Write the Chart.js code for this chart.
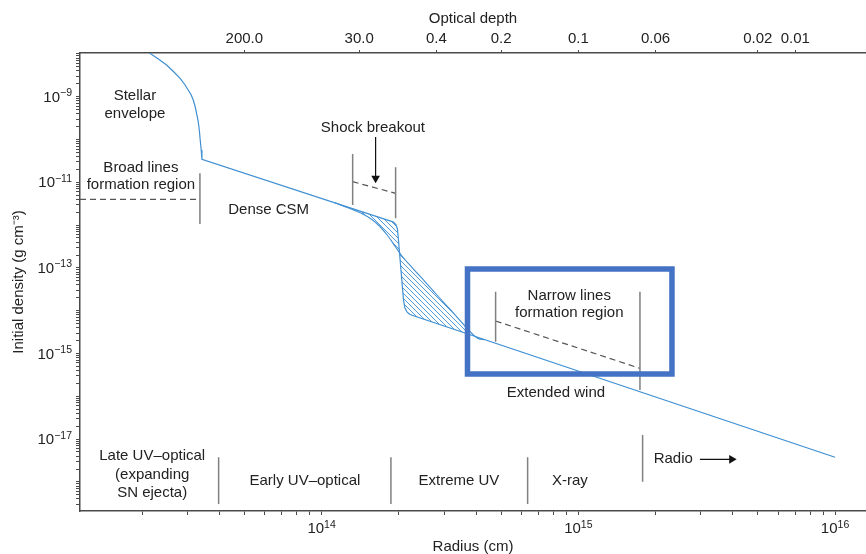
<!DOCTYPE html>
<html><head><meta charset="utf-8">
<script src="https://cdn.jsdelivr.net/npm/chart.js@4"></script>
<style>html,body{margin:0;padding:0;background:#fff}#wrap{width:866px;height:554px;position:relative}</style>
</head><body><div id="wrap"><canvas id="c"></canvas></div>
<script>
// ---------------- data (radius in cm, density in g cm^-3) ----------------
const profileRadius  = [2.087e13, 2.143e13, 2.313e13, 2.490e13, 2.647e13, 2.811e13, 2.921e13, 3.022e13, 3.105e13, 3.162e13,
                        3.216e13, 3.258e13, 3.297e13, 3.327e13, 3.347e13, 3.366e13, 3.396e13, 3.418e13,
                        1.845e14, 1.904e14, 1.947e14, 1.974e14, 1.992e14, 2.084e14, 2.112e14, 2.150e14, 2.208e14, 1.0e16];
const profileDensity = [1.169e-8, 1.033e-8, 7.60e-9, 5.51e-9, 3.88e-9, 2.69e-9, 1.98e-9, 1.436e-9, 1.097e-9, 8.38e-10,
                        5.90e-10, 4.09e-10, 2.86e-10, 1.99e-10, 1.419e-10, 9.73e-11, 5.69e-11, 3.44e-11,
                        1.259e-12, 1.180e-12, 1.033e-12, 8.11e-13, 4.49e-13, 1.778e-14, 1.156e-14, 9.33e-15, 8.15e-15, 3.76e-18];
const shellRadius  = [1.127e14, 1.289e14, 1.435e14, 1.570e14, 1.687e14, 1.813e14, 1.930e14, 2.055e14, 2.269e14, 2.526e14,
                      2.813e14, 3.105e14, 3.396e14, 3.648e14, 3.851e14, 4.064e14, 4.33e14];
const shellDensity = [3.32e-12, 2.443e-12, 1.866e-12, 1.351e-12, 9.28e-13, 5.56e-13, 3.25e-13, 1.897e-13, 9.68e-14, 4.81e-14,
                      2.327e-14, 1.220e-14, 6.75e-15, 4.16e-15, 2.93e-15, 2.24e-15, 2.10e-15];

// region separators (vertical grey lines)
const sepRadius = [3.357e13, 1.321e14, 1.942e14, 4.762e14, 1.738e15, 3.97e13, 1.862e14, 6.346e14, 1.780e15];
const sepTop    = [1.62e-11, 4.58e-11, 2.24e-11, 2.78e-14, 2.78e-14, 3.76e-18, 3.76e-18, 3.76e-18, 1.247e-17];
const sepBottom = [1.06e-12, 2.95e-12, 1.44e-12, 1.888e-15, 1.403e-16, 3.05e-19, 3.05e-19, 3.05e-19, 1.01e-18];

// dashed guide lines
const dashStartR   = [1.145e13, 1.321e14, 4.762e14];
const dashStartRho = [4.01e-12, 1.033e-11, 5.74e-15];
const dashEndR     = [3.357e13, 1.942e14, 1.738e15];
const dashEndRho   = [4.01e-12, 5.53e-12, 4.51e-16];

// arrows
const arrowStartR   = [1.623e14, 2.975e15];
const arrowStartRho = [1.143e-10, 3.37e-18];
const arrowEndR     = [1.623e14, 3.956e15];
const arrowEndRho   = [1.24e-11, 3.37e-18];
const arrowAngle    = [180, 90];

// highlight box corners
const boxRadius  = [3.70e14, 2.316e15];
const boxDensity = [9.42e-14, 3.32e-16];

// annotation texts
const noteText = ['Stellar','envelope','Broad lines','formation region','Dense CSM','Shock breakout',
                  'Narrow lines','formation region','Extended wind','Late UV\u2013optical','(expanding','SN ejecta)',
                  'Early UV\u2013optical','Extreme UV','X-ray','Radio'];
const noteRadius = [1.874e13,1.874e13,1.977e13,1.977e13,6.218e13,1.584e14,9.22e14,9.22e14,8.18e14,
                    2.188e13,2.188e13,2.188e13,8.61e13,3.426e14,9.27e14,2.343e15];
const noteDensity = [1.038e-9,3.95e-10,2.16e-11,8.65e-12,2.25e-12,1.86e-10,2.24e-14,8.69e-15,1.213e-16,
                     4.03e-18,1.449e-18,5.41e-19,1.067e-18,1.067e-18,1.067e-18,3.37e-18];

// axes
const radiusMin = 1.145e13, radiusMax = 1.32e16;
const densityMin = 2.09e-19, densityMax = 1.05e-8;
const tickBase = '10';
const xTickValues = [1e14, 1e15, 1e16];
const xTickExponents = ['14', '15', '16'];
const yTickValues = [1e-9, 1e-11, 1e-13, 1e-15, 1e-17];
const yTickExponents = ['\u22129', '\u221211', '\u221213', '\u221215', '\u221217'];
const depthTickRadius = [5e13, 1.4e14, 2.8e14, 5e14, 1e15, 2e15, 5e15, 7e15];
const depthTickLabels = ['200.0', '30.0', '0.4', '0.2', '0.1', '0.06', '0.02', '0.01'];

// ---------------- chart ----------------
const BLUE = '#3f8fd2', GREY = '#808080', DASH = '#555555', AXIS = '#4a4a4a', TXT = '#222222', BOX = '#4472c4';
const FAMILY = '"Liberation Sans", Arial, Helvetica, sans-serif';
Chart.defaults.font.family = FAMILY;
Chart.defaults.font.size = 15;
Chart.defaults.color = TXT;

const pts = (xs, ys) => xs.map((v, i) => ({x: v, y: ys[i]}));
function logTicks(min, max) {
  const out = [];
  for (let e = Math.floor(Math.log10(min)); e <= Math.ceil(Math.log10(max)); e++) {
    for (let k = 1; k <= 9; k++) {
      const v = k * Math.pow(10, e);
      if (v >= min && v <= max) out.push({value: v});
    }
  }
  return out;
}
function labelFor(v, vals, labels) {
  for (let i = 0; i < vals.length; i++) if (Math.abs(Math.log10(v / vals[i])) < 1e-6) return labels[i];
  return '';
}
function hatch() {
  const s = 5, c = document.createElement('canvas');
  c.width = s; c.height = s;
  const g = c.getContext('2d');
  g.strokeStyle = BLUE; g.lineWidth = 0.9;
  g.beginPath();
  g.moveTo(0, 0); g.lineTo(s, s);
  g.moveTo(-1, s - 1); g.lineTo(1, s + 1);
  g.moveTo(s - 1, -1); g.lineTo(s + 1, 1);
  g.stroke();
  return g.createPattern(c, 'repeat');
}

const datasets = [];
datasets.push({data: pts(profileRadius, profileDensity), borderColor: BLUE, borderWidth: 1.2, order: 1, tension: 0});
datasets.push({data: pts(shellRadius, shellDensity), borderColor: BLUE, borderWidth: 1.1, order: 2,
               fill: {target: 0}, backgroundColor: hatch(), cubicInterpolationMode: 'monotone'});
sepRadius.forEach((r, i) => datasets.push({data: pts([r, r], [sepTop[i], sepBottom[i]]), borderColor: GREY, borderWidth: 1.5, order: 3}));
dashStartR.forEach((r, i) => datasets.push({data: pts([r, dashEndR[i]], [dashStartRho[i], dashEndRho[i]]),
  borderColor: DASH, borderWidth: 1.2, borderDash: [6, 4], order: 3}));
arrowStartR.forEach((r, i) => datasets.push({data: pts([r, arrowEndR[i]], [arrowStartRho[i], arrowEndRho[i]]),
  borderColor: '#111', borderWidth: 1.2, order: 3, pointRadius: [0, 5], pointStyle: 'triangle',
  pointRotation: arrowAngle[i], pointBackgroundColor: '#111', pointBorderColor: '#111', pointBorderWidth: 0}));
datasets.push({data: pts([boxRadius[0], boxRadius[1], boxRadius[1], boxRadius[0], boxRadius[0], boxRadius[1]],
                          [boxDensity[0], boxDensity[0], boxDensity[1], boxDensity[1], boxDensity[0], boxDensity[0]]),
  borderColor: BOX, borderWidth: 5.5, borderJoinStyle: 'miter', borderCapStyle: 'butt', order: 0});

const notes = {
  id: 'notes',
  afterDatasetsDraw(chart) {
    const {ctx, scales: {x, y}} = chart;
    ctx.save();
    ctx.font = '15px ' + FAMILY;
    ctx.fillStyle = TXT; ctx.textAlign = 'center'; ctx.textBaseline = 'middle';
    noteText.forEach((t, i) => ctx.fillText(t, x.getPixelForValue(noteRadius[i]), y.getPixelForValue(noteDensity[i])));
    ctx.restore();
  }
};

// power-of-ten tick labels with a raised exponent
const powerLabels = {
  id: 'powerLabels',
  afterDraw(chart) {
    const {ctx, scales: {x, y}, chartArea} = chart;
    const baseFont = '15px ' + FAMILY, supFont = '10.5px ' + FAMILY;
    ctx.save();
    ctx.fillStyle = TXT; ctx.textAlign = 'left'; ctx.textBaseline = 'alphabetic';
    ctx.font = baseFont;
    const bw = ctx.measureText(tickBase).width;
    xTickValues.forEach((v, i) => {
      ctx.font = supFont;
      const ew = ctx.measureText(xTickExponents[i]).width;
      const left = x.getPixelForValue(v) - (bw + ew) / 2;
      const base = chartArea.bottom + 22;
      ctx.font = baseFont; ctx.fillText(tickBase, left, base);
      ctx.font = supFont; ctx.fillText(xTickExponents[i], left + bw, base - 5.5);
    });
    yTickValues.forEach((v, i) => {
      ctx.font = supFont;
      const ew = ctx.measureText(yTickExponents[i]).width;
      const right = chartArea.left - 8;
      const py = y.getPixelForValue(v);
      ctx.font = baseFont; ctx.fillText(tickBase, right - ew - bw, py + 5);
      ctx.font = supFont; ctx.fillText(yTickExponents[i], right - ew, py - 0.5);
    });
    ctx.restore();
  }
};

new Chart(document.getElementById('c'), {
  type: 'scatter',
  data: {datasets},
  plugins: [notes, powerLabels],
  options: {
    responsive: true, maintainAspectRatio: false, animation: false,
    layout: {padding: 0, autoPadding: false},
    showLine: true,
    elements: {point: {radius: 0, hoverRadius: 0}, line: {fill: false}},
    plugins: {legend: {display: false}, tooltip: {enabled: false}},
    scales: {
      x: {
        type: 'logarithmic', position: 'bottom', min: radiusMin, max: radiusMax,
        afterBuildTicks: s => { s.ticks = logTicks(radiusMin, radiusMax); },
        afterFit: s => { s.height = 43; s.paddingLeft = 0; s.paddingRight = 0; },
        ticks: {display: false, autoSkip: false, maxRotation: 0, minRotation: 0},
        grid: {drawOnChartArea: false, drawTicks: true, tickLength: 4, color: AXIS, lineWidth: 1},
        border: {display: true, color: AXIS, width: 1.5},
        title: {display: true, text: 'Radius (cm)', color: TXT, padding: {top: 0, bottom: -2}}
      },
      x2: {
        type: 'logarithmic', position: 'top', min: radiusMin, max: radiusMax,
        afterBuildTicks: s => { s.ticks = depthTickRadius.map(v => ({value: v})); },
        afterFit: s => { s.height = 53; s.paddingLeft = 0; s.paddingRight = 0; },
        ticks: {autoSkip: false, maxRotation: 0, minRotation: 0, padding: 2, color: TXT,
                callback: v => labelFor(v, depthTickRadius, depthTickLabels)},
        grid: {drawOnChartArea: false, drawTicks: true, tickLength: 3, color: AXIS, lineWidth: 1},
        border: {display: true, color: AXIS, width: 1.5},
        title: {display: true, text: 'Optical depth', color: TXT, padding: {top: 10, bottom: 0}}
      },
      y: {
        type: 'logarithmic', position: 'left', min: densityMin, max: densityMax,
        afterBuildTicks: s => { s.ticks = logTicks(densityMin, densityMax); },
        afterFit: s => { s.width = 80; s.paddingTop = 0; s.paddingBottom = 0; },
        ticks: {display: false, autoSkip: false},
        grid: {drawOnChartArea: false, drawTicks: true, tickLength: 4, color: AXIS, lineWidth: 1},
        border: {display: true, color: AXIS, width: 1.5},
        title: {display: true, text: 'Initial density (g cm\u207b\u00b3)', color: TXT, padding: {top: 10, bottom: 0}}
      }
    }
  }
});
</script>
</body></html>
